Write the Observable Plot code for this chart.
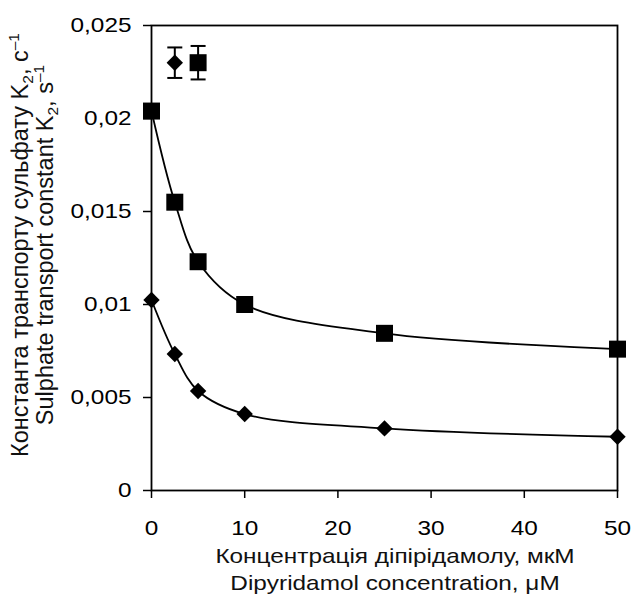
<!DOCTYPE html>
<html><head><meta charset="utf-8">
<script src="https://cdn.jsdelivr.net/npm/d3@7"></script>
<script src="https://cdn.jsdelivr.net/npm/@observablehq/plot@0.6"></script>
<style>
html,body{margin:0;padding:0;background:#fff}
svg{font-family:"Liberation Sans",Arial,sans-serif}
</style>
</head><body><div id="chart"></div>
<script>
// ---- data ----
const concentrations = [0, 2.5, 5, 10, 25, 50];
const squareSeries = [0.0204, 0.0155, 0.0123, 0.0100, 0.00845, 0.0076];
const diamondSeries = [0.01024, 0.00734, 0.00535, 0.00411, 0.00334, 0.00289];
const controlX = [2.5, 5];
const controlValues = [0.0230, 0.0230];
const controlErrors = [0.00082, 0.00090];
const controlShapes = ["diamond", "square"];
const xTicks = [0, 10, 20, 30, 40, 50];
const yTicks = [0, 0.005, 0.01, 0.015, 0.02, 0.025];
const xTitle = ["Концентрація діпірідамолу, мкМ", "Dipyridamol concentration, μM"];
const yTitle = [
  [["Константа транспорту сульфату K", "n"], ["2", "sub"], [", с", "n"], ["–1", "sup"]],
  [["Sulphate transport constant K", "n"], ["2", "sub"], [", s", "n"], ["–1", "sup"]]
];

// ---- symbols ----
const squareSym = {draw(c, size){const r = Math.sqrt(size/Math.PI); c.rect(-r, -r, 2*r, 2*r);}};
const diamondSym = {draw(c, size){const r = Math.sqrt(size/Math.PI); c.moveTo(0,-r); c.lineTo(r,0); c.lineTo(0,r); c.lineTo(-r,0); c.closePath();}};
const capSym = {draw(c, size){const r = Math.sqrt(size/Math.PI); c.moveTo(-r,0); c.lineTo(r,0);}};

const sq = concentrations.map((x, i) => ({x, y: squareSeries[i]}));
const di = concentrations.map((x, i) => ({x, y: diamondSeries[i]}));
const ctrl = controlX.map((x, i) => ({x, y: controlValues[i], e: controlErrors[i], s: controlShapes[i]}));

const fmt = d => String(d).replace(".", ",");

const plot = Plot.plot({
  width: 632, height: 594,
  marginLeft: 151, marginRight: 15, marginTop: 25, marginBottom: 104,
  style: {fontSize: "21px", fontFamily: "'Liberation Sans', Arial, sans-serif", color: "#000", background: "#fff"},
  x: {domain: [0, 50]},
  y: {domain: [0, 0.025]},
  marks: [
    Plot.axisX({ticks: xTicks, tickSize: 8, tickPadding: 22, tickFormat: fmt, label: null, strokeWidth: 1.5}),
    Plot.axisY({ticks: yTicks, tickSize: 8, tickPadding: 12, tickFormat: fmt, label: null, strokeWidth: 1.5}),
    Plot.line(sq, {x: "x", y: "y", curve: "catmull-rom", stroke: "#000", strokeWidth: 1.8}),
    Plot.line(di, {x: "x", y: "y", curve: "catmull-rom", stroke: "#000", strokeWidth: 1.8}),
    Plot.ruleX(ctrl, {x: "x", y1: d => d.y - d.e, y2: d => d.y + d.e, stroke: "#000", strokeWidth: 2}),
    Plot.dot(ctrl, {x: "x", y: d => d.y - d.e, symbol: capSym, r: 7.5, fill: "none", stroke: "#000", strokeWidth: 2}),
    Plot.dot(ctrl, {x: "x", y: d => d.y + d.e, symbol: capSym, r: 7.5, fill: "none", stroke: "#000", strokeWidth: 2}),
    Plot.dot(ctrl.filter(d => d.s === "diamond"), {x: "x", y: "y", symbol: diamondSym, r: 8.2, fill: "#000", stroke: "none"}),
    Plot.dot(ctrl.filter(d => d.s === "square"), {x: "x", y: "y", symbol: squareSym, r: 8.5, fill: "#000", stroke: "none"}),
    Plot.dot(sq, {x: "x", y: "y", symbol: squareSym, r: 8.5, fill: "#000", stroke: "none"}),
    Plot.dot(di, {x: "x", y: "y", symbol: diamondSym, r: 8.2, fill: "#000", stroke: "none"}),
    Plot.frame({stroke: "#000", strokeWidth: 1.8})
  ]
});

const S = 1.16; // horizontal glyph stretch seen in reference
plot.querySelectorAll("text").forEach(t => {
  const x = parseFloat(t.getAttribute("x")) || 0;
  const tr = t.getAttribute("transform") || "";
  t.setAttribute("transform", `${tr} translate(${x},0) scale(${S},1) translate(${-x},0)`);
});

const svg = d3.select(plot);
const titles = svg.append("g").attr("fill", "#111").attr("text-anchor", "middle");
// x title
const xCenter = 395, xBase = [563, 590];
xTitle.forEach((s, i) => {
  titles.append("text").attr("font-size", 21)
    .attr("transform", `translate(${xCenter},${xBase[i]}) scale(${S},1)`).text(s);
});
// y title (rotated)
const yCenter = 245, yBase = [28, 53];
yTitle.forEach((segs, i) => {
  const t = titles.append("text").attr("font-size", 23.5)
    .attr("transform", `translate(${yBase[i]},${yCenter}) rotate(-90)`);
  let shift = 0;
  segs.forEach(([str, kind]) => {
    const target = kind === "sub" ? 5 : kind === "sup" ? -9 : 0;
    const ts = t.append("tspan").text(str).attr("dy", target - shift);
    if (kind !== "n") ts.attr("font-size", 15.5);
    shift = target;
  });
});

document.getElementById("chart").appendChild(plot);
</script>
</body></html>
